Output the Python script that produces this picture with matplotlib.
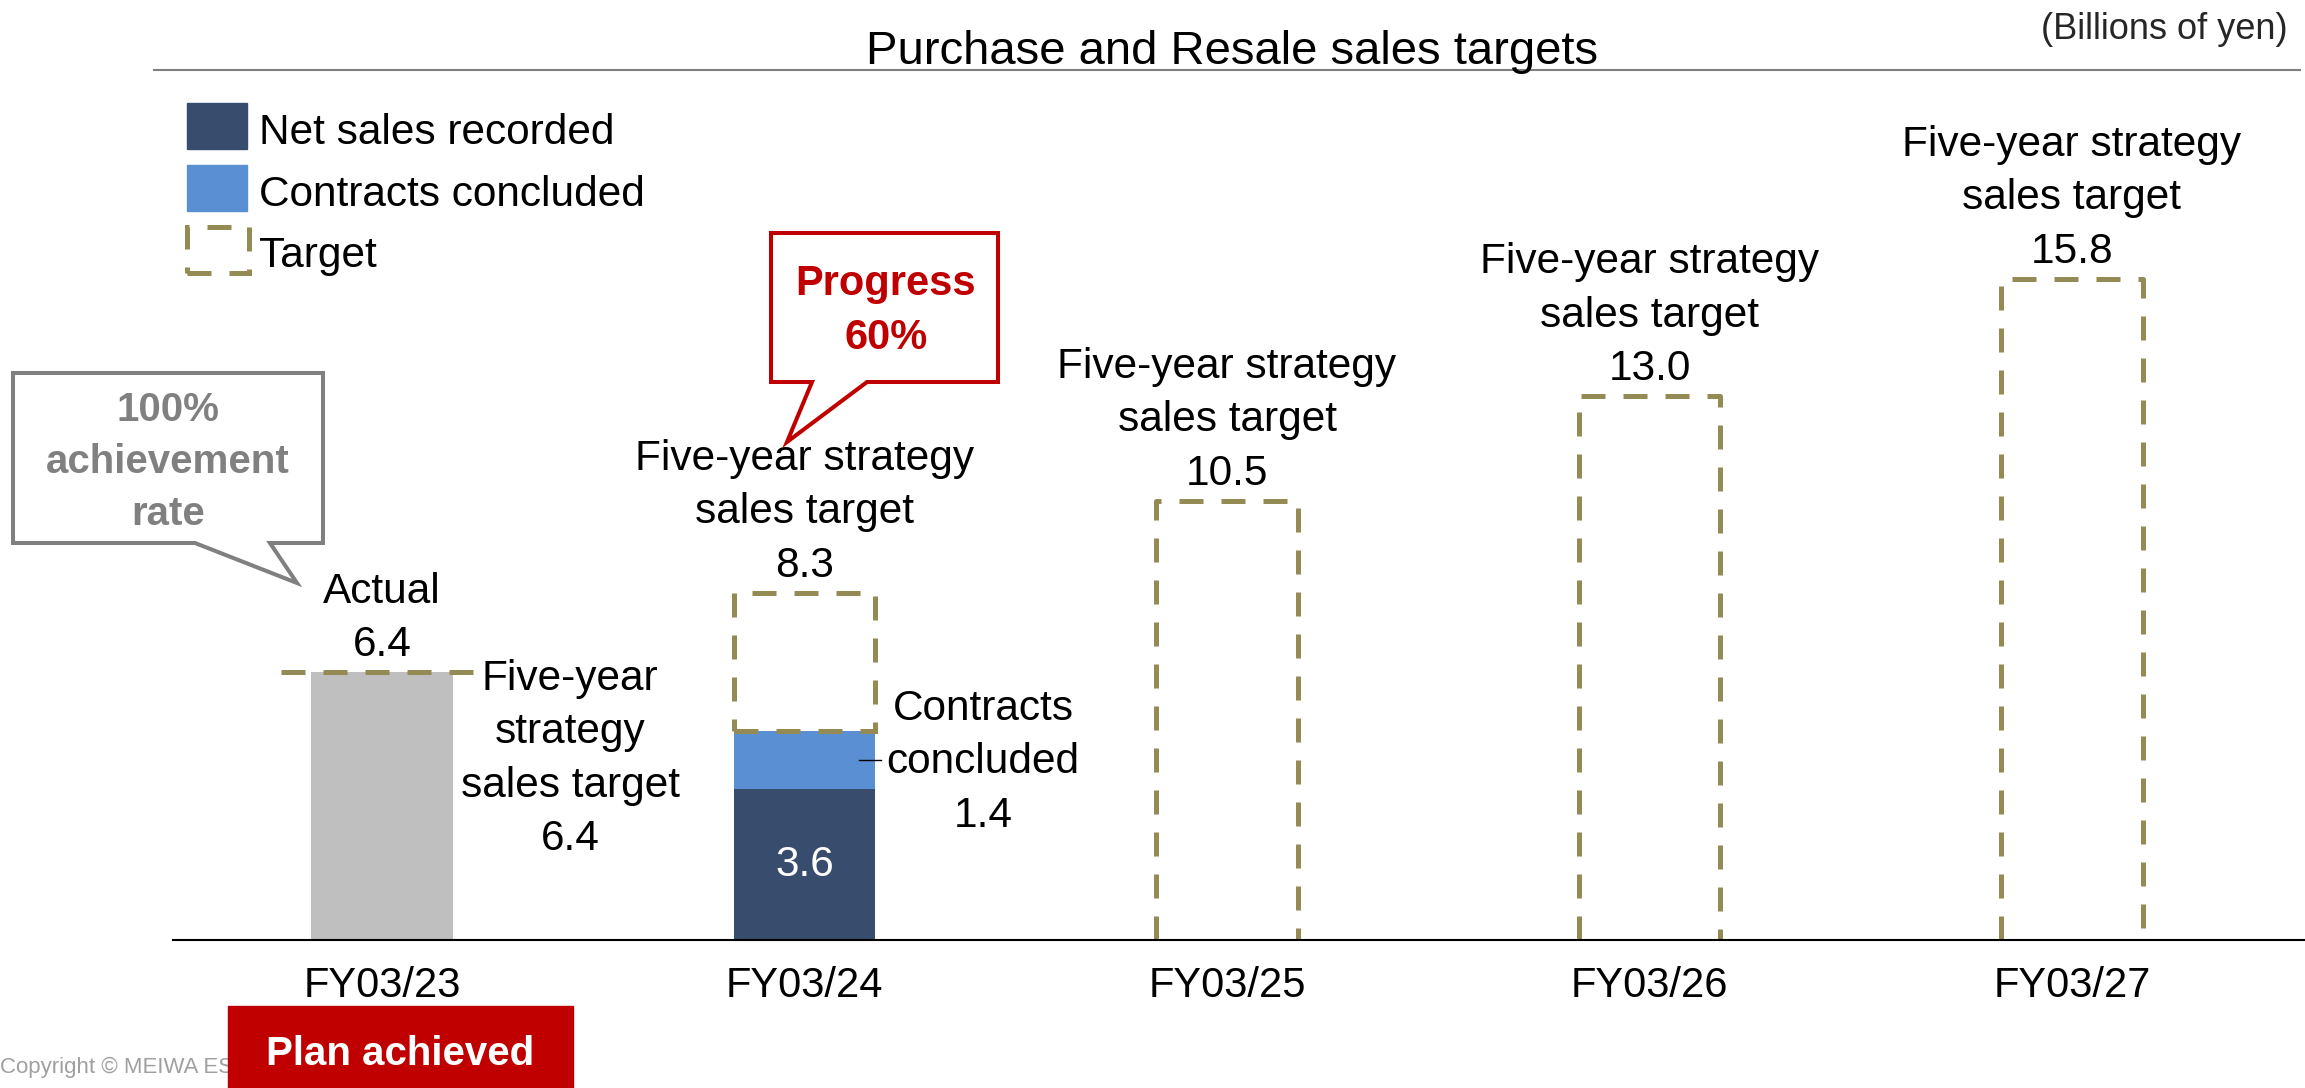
"""Purchase and Resale sales targets chart (billions of yen)."""
import matplotlib.pyplot as plt
from matplotlib.patches import Rectangle, Polygon
from matplotlib.lines import Line2D

# Data
fiscal_years = ['FY03/23', 'FY03/24', 'FY03/25', 'FY03/26', 'FY03/27']
targets = [6.4, 8.3, 10.5, 13.0, 15.8]
actual_fy23 = 6.4
net_sales_fy24 = 3.6
contracts_fy24 = 1.4

plt.rcParams['font.family'] = ['Liberation Sans', 'DejaVu Sans']

colors = {
    'actual': '#BFBFBF',
    'net': '#384D6E',
    'contracts': '#5B8FD3',
    'target': '#948A54',
    'red': '#C00000',
    'gray': '#808080',
}

W, H = 2305, 1088
fig = plt.figure(figsize=(W / 100, H / 100), dpi=100)


def fx(x):
    return x / W


def fy(y):
    return 1 - y / H


# axes: baseline at y=940px, 41.85 px per billion, 422.5 px between bars
ax = fig.add_axes([fx(173), fy(940), (W - 173) / W, 837 / H])
ax.set_ylim(0, 20)
ax.set_xlim(-0.4947, 4.5515)
for side in ('top', 'right', 'left'):
    ax.spines[side].set_visible(False)
ax.spines['bottom'].set_color('black')
ax.spines['bottom'].set_linewidth(1.5)
ax.spines['bottom'].set_zorder(5)
ax.set_yticks([])
ax.set_xticks(range(len(fiscal_years)))
ax.set_xticklabels(fiscal_years, fontsize=30)
ax.tick_params(axis='x', length=0, pad=19)

bw = 0.336
dash = (0, (4.8, 3.6))
tlw = 3.6
fs = 30.5
ls = 1.43

# FY03/23 actual vs target
ax.bar(0, actual_fy23, bw, color=colors['actual'], zorder=2)
ax.plot([-0.24, 0.22], [targets[0], targets[0]], color=colors['target'],
        lw=tlw, linestyle=dash, zorder=3, solid_capstyle='butt', dash_capstyle='butt')
ax.annotate(f'Actual\n{actual_fy23:.1f}', xy=(0, actual_fy23), xytext=(0, 5),
            textcoords='offset points', ha='center', va='bottom', fontsize=fs,
            linespacing=ls, multialignment='center')
# baseline of the last line sits below the target line
ax.annotate(f'Five-year\nstrategy\nsales target\n{targets[0]:.1f}', xy=(0, targets[0]),
            xytext=(135.4, -128), textcoords='offset points', ha='center',
            va='baseline', fontsize=fs, linespacing=ls, multialignment='center')

# FY03/24 net sales + contracts, remaining target box
ax.bar(1, net_sales_fy24, bw, color=colors['net'], zorder=2)
ax.bar(1, contracts_fy24, bw, bottom=net_sales_fy24, color=colors['contracts'], zorder=2)
done = net_sales_fy24 + contracts_fy24
ax.bar(1, targets[1] - done, bw, bottom=done, fill=False, edgecolor=colors['target'],
       linewidth=tlw, linestyle=dash, zorder=3)
ax.text(1, net_sales_fy24 / 2, f'{net_sales_fy24:.1f}', color='white', fontsize=fs,
        ha='center', va='center', zorder=4)
mid = net_sales_fy24 + contracts_fy24 / 2
ax.plot([1 + bw / 2 - 0.04, 1 + bw / 2 + 0.012], [mid, mid], color='black', lw=1, zorder=4)
ax.annotate(f'Contracts\nconcluded\n{contracts_fy24:.1f}', xy=(1, done),
            xytext=(128.5, -69), textcoords='offset points', ha='center',
            va='baseline', fontsize=fs, linespacing=ls, multialignment='center')

# target outlines for the remaining years
for i in range(2, len(targets)):
    t = targets[i]
    ax.plot([i - bw / 2, i - bw / 2, i + bw / 2, i + bw / 2], [0, t, t, 0],
            color=colors['target'], lw=tlw, linestyle=dash, zorder=3)

for i in range(1, len(targets)):
    ax.annotate(f'Five-year strategy\nsales target\n{targets[i]:.1f}', xy=(i, targets[i]),
                xytext=(0, 5), textcoords='offset points', ha='center', va='bottom',
                fontsize=fs, linespacing=ls, multialignment='center')

# header
fig.text(fx(1232), fy(64), 'Purchase and Resale sales targets', fontsize=34,
         ha='center', va='baseline')
fig.text(fx(2288), fy(39), '(Billions of yen)', fontsize=26, color='#262626',
         ha='right', va='baseline')
fig.add_artist(Line2D([fx(154), fx(2300)], [fy(70), fy(70)], color=colors['gray'], lw=1.5))

# legend
legend_items = [('Net sales recorded', colors['net'], 103, 144),
                ('Contracts concluded', colors['contracts'], 165, 206)]
for label, c, top, base in legend_items:
    fig.add_artist(Rectangle((fx(187), fy(top + 46)), 60 / W, 46 / H,
                             transform=fig.transFigure, color=c))
    fig.text(fx(259), fy(base), label, fontsize=fs, va='baseline')
fig.add_artist(Rectangle((fx(187), fy(273)), 62 / W, 46 / H, transform=fig.transFigure,
                         fill=False, edgecolor=colors['target'], lw=tlw, linestyle=dash))
fig.text(fx(259), fy(267), 'Target', fontsize=fs, va='baseline')

# callouts (text baselines refer to the last line)
gray_pts = [(13, 373), (323, 373), (323, 543), (270, 543), (297, 583), (195, 543), (13, 543)]
fig.add_artist(Polygon([(fx(x), fy(y)) for x, y in gray_pts], closed=True,
                       transform=fig.transFigure, facecolor='white',
                       edgecolor=colors['gray'], lw=2.9, joinstyle='miter'))
fig.text(fx(168), fy(525), '100%\nachievement\nrate', fontsize=29, fontweight='bold',
         color=colors['gray'], ha='center', va='baseline', linespacing=1.46,
         multialignment='center')

red_pts = [(771, 233), (998, 233), (998, 382), (867, 382), (787, 442), (812, 382), (771, 382)]
fig.add_artist(Polygon([(fx(x), fy(y)) for x, y in red_pts], closed=True,
                       transform=fig.transFigure, facecolor='white',
                       edgecolor=colors['red'], lw=2.9, joinstyle='miter'))
fig.text(fx(886), fy(349), 'Progress\n60%', fontsize=30, fontweight='bold',
         color=colors['red'], ha='center', va='baseline', linespacing=1.46,
         multialignment='center')

# footer
fig.text(fx(0), fy(1073), 'Copyright © MEIWA ESTATE', fontsize=16, color='#A0A0A0',
         va='baseline', zorder=1)
fig.add_artist(Rectangle((fx(228), fy(1100)), 345 / W, 94 / H, transform=fig.transFigure,
                         color=colors['red'], zorder=2))
fig.text(fx(400), fy(1065), 'Plan achieved', fontsize=29, fontweight='bold',
         color='white', ha='center', va='baseline', zorder=3)

fig.savefig('out.png', dpi=100, facecolor='white')
